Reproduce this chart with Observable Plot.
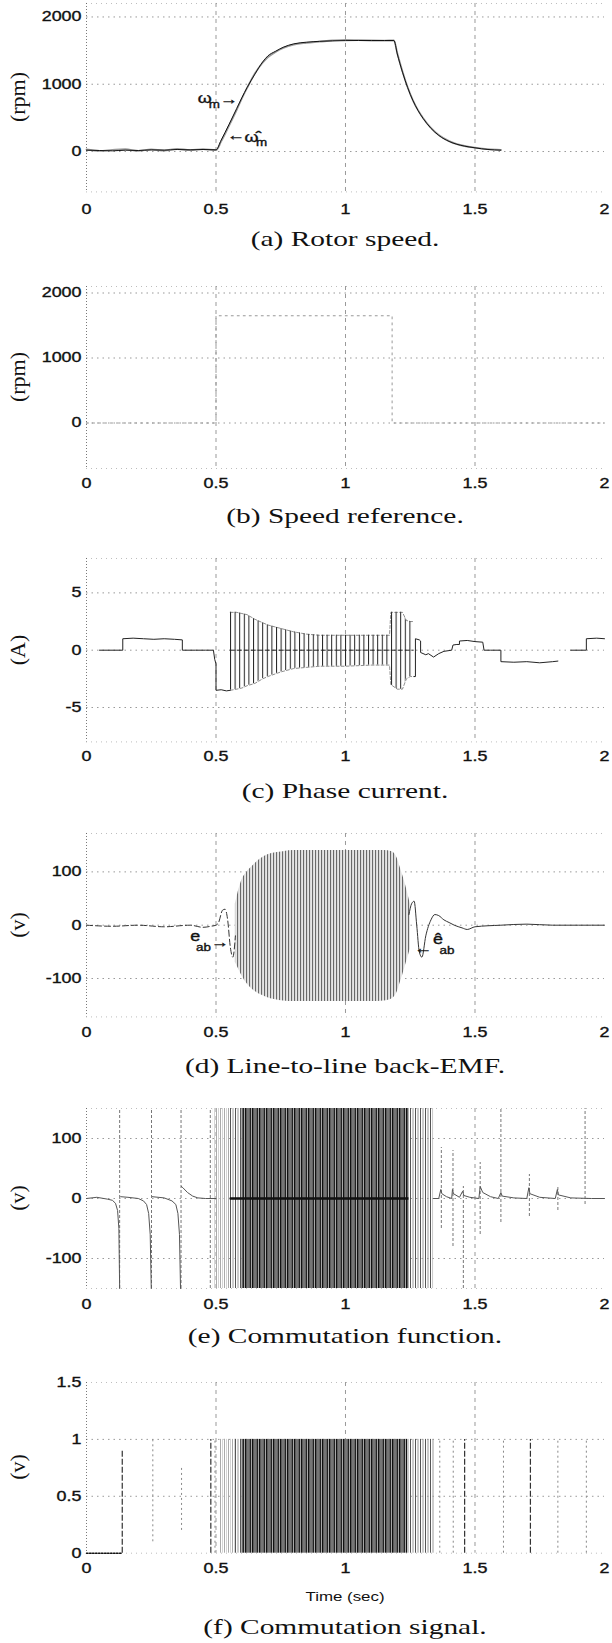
<!DOCTYPE html>
<html><head><meta charset="utf-8">
<script src="https://cdn.jsdelivr.net/npm/d3@7"></script>
<script src="https://cdn.jsdelivr.net/npm/@observablehq/plot@0.6"></script>
<style>
body{margin:0;background:#fff;}
#page{position:relative;width:612px;height:1643px;overflow:hidden;background:#fff;}
#page svg text{stroke:#111;stroke-width:0.35px;}
.cap{position:absolute;white-space:nowrap;font-family:"Liberation Serif","Times New Roman",serif;font-size:21px;line-height:21px;color:#111;transform:translate(-50%,-50%) scaleX(1.4);}
.ylab{position:absolute;white-space:nowrap;font-family:"Liberation Serif","Times New Roman",serif;font-size:22px;line-height:22px;color:#111;transform:translate(-50%,-50%) rotate(-90deg);}
.xlab{position:absolute;white-space:nowrap;font-family:"Liberation Sans",Arial,sans-serif;font-size:13.5px;line-height:14px;color:#111;transform:translate(-50%,-50%) scaleX(1.25);}
</style></head><body>
<svg width="0" height="0" style="position:absolute;left:0;top:0">
<defs>
<pattern id="hatchC" patternUnits="userSpaceOnUse" width="4.6" height="6"><rect x="0" y="0" width="1" height="6" fill="#222"/></pattern>
<pattern id="hatchD" patternUnits="userSpaceOnUse" width="3" height="6"><rect width="3" height="6" fill="#e6e6e6"/><rect x="0" width="1.1" height="6" fill="#6a6a6a"/></pattern>
<pattern id="bandLight" patternUnits="userSpaceOnUse" width="4" height="6"><rect x="0" width="1" height="6" fill="#aaa"/><rect x="2" width="1" height="6" fill="#d4d4d4"/></pattern>
<pattern id="bandMid" patternUnits="userSpaceOnUse" width="5" height="6"><rect x="0" width="1" height="6" fill="#555"/><rect x="2.5" width="1" height="6" fill="#999"/></pattern>
<pattern id="bandDark" patternUnits="userSpaceOnUse" width="7" height="6"><rect width="7" height="6" fill="#a8a8a8"/><rect x="0" width="1.5" height="6" fill="#111"/><rect x="2.5" width="1" height="6" fill="#444"/><rect x="4.5" width="1.5" height="6" fill="#222"/></pattern>
</defs></svg>
<div id="page"></div>
<script>
// ---------- shared ----------
const xTickValues = [0, 0.5, 1, 1.5, 2];
const captions = ["(a) Rotor speed.", "(b) Speed reference.", "(c) Phase current.", "(d) Line-to-line back-EMF.", "(e) Commutation function.", "(f) Commutation signal."];
const yLabels = ["(rpm)", "(rpm)", "(A)", "(v)", "(v)", "(v)"];
const xAxisTitle = "Time (sec)";

// ---------- (a) rotor speed ----------
const speedTicks = [0, 1000, 2000];
const speedTime     = [0, 0.05, 0.1, 0.15, 0.2, 0.25, 0.3, 0.35, 0.4, 0.45, 0.5, 0.52, 0.55, 0.58, 0.6, 0.62, 0.65, 0.68, 0.7, 0.73, 0.76, 0.8, 0.85, 0.9, 0.95, 1.0, 1.05, 1.1, 1.15, 1.187, 1.2, 1.22, 1.24, 1.26, 1.28, 1.3, 1.33, 1.36, 1.4, 1.43, 1.46, 1.5, 1.55, 1.6];
const speedActual   = [20, 15, 10, 20, 15, 25, 20, 30, 25, 30, 25, 170, 400, 640, 800, 950, 1150, 1330, 1420, 1490, 1550, 1600, 1625, 1638, 1645, 1648, 1650, 1650, 1650, 1650, 1450, 1180, 950, 760, 610, 490, 345, 240, 150, 108, 80, 55, 30, 20];
const speedEstimate = [30, 10, 25, 35, 10, 30, 15, 40, 20, 35, 20, 150, 380, 620, 790, 945, 1160, 1320, 1400, 1480, 1540, 1590, 1615, 1632, 1650, 1660, 1655, 1650, 1648, 1652, 1460, 1190, 955, 765, 615, 495, 350, 245, 155, 110, 82, 58, 35, 25];
const speedNoteText = ["ω", "→", "←", "ω\u0302"];
const speedNoteTime = [0.456, 0.55, 0.577, 0.637];
const speedNoteValue = [790, 770, 238, 205];
const speedSubText = ["m", "m"];
const speedSubTime = [0.494, 0.676];
const speedSubValue = [700, 130];

// ---------- (b) speed reference ----------
const refTicks = [0, 1000, 2000];
const refTime  = [0, 0.5, 1.18, 2];
const refSpeed = [0, 1650, 0, 0];

// ---------- (c) phase current ----------
const currentTicks = [-5, 0, 5];
const currentTimeA = [0.05, 0.14, 0.14, 0.18, 0.22, 0.26, 0.30, 0.34, 0.37, 0.37, 0.42, 0.46, 0.49, 0.495, 0.5, 0.5, 0.52, 0.54, 0.555];
const currentA     = [0, 0, 1.0, 1.05, 1.0, 0.95, 1.0, 0.95, 0.9, 0, 0, 0, 0, -0.8, -1.2, -3.5, -3.45, -3.55, -3.5];
const currentTimeB = [1.265, 1.27, 1.27, 1.285, 1.29, 1.29, 1.31, 1.32, 1.34, 1.36, 1.38, 1.41, 1.415, 1.43, 1.44, 1.44, 1.47, 1.5, 1.53, 1.535, 1.56, 1.6, 1.6, 1.65, 1.7, 1.75, 1.8, 1.82, NaN, 1.87, 1.93, 1.93, 1.97, 2.0];
const currentB     = [-2.3, -2.3, 1.0, 0.9, 0.8, -0.2, -0.4, -0.3, -0.6, -0.3, -0.1, 0, 0.45, 0.5, 0.5, 0.8, 0.85, 0.75, 0.7, 0, 0, 0, -1.0, -1.05, -1.0, -1.1, -1.0, -0.95, NaN, 0, 0, 1.0, 1.05, 1.0];
const currentBandTime = [0.555, 0.58, 0.6, 0.62, 0.65, 0.68, 0.7, 0.75, 0.8, 0.85, 0.9, 1.0, 1.1, 1.17, 1.175, 1.2, 1.22, 1.235, 1.25, 1.265];
const currentBandHigh = [3.3, 3.3, 3.2, 3.1, 2.7, 2.4, 2.2, 1.9, 1.6, 1.4, 1.3, 1.3, 1.3, 1.3, 3.3, 3.3, 3.3, 2.6, 2.5, 2.5];
const currentBandLow  = [-3.5, -3.4, -3.3, -3.1, -2.9, -2.5, -2.3, -1.9, -1.6, -1.5, -1.4, -1.4, -1.3, -1.3, -3.0, -3.4, -3.4, -2.5, -2.3, -2.3];

// ---------- (d) back-EMF ----------
const emfTicks = [-100, 0, 100];
const emfTimeA = [0, 0.1, 0.2, 0.3, 0.4, 0.45, 0.48, 0.5, 0.51, 0.525, 0.535, 0.545, 0.555, 0.565, 0.575];
const emfA     = [0, -2, 0, -3, 0, -4, -2, 0, 5, 28, 30, 10, -40, -60, -20];
const emfTimeB = [1.245, 1.255, 1.265, 1.275, 1.285, 1.295, 1.31, 1.33, 1.345, 1.36, 1.38, 1.4, 1.42, 1.45, 1.47, 1.5, 1.6, 1.7, 1.8, 1.9, 2.0];
const emfB     = [20, 40, 45, 0, -50, -60, -20, 10, 20, 18, 10, 5, 0, -5, -8, -3, 0, 2, 0, 0, 0];
const emfBandTime = [0.575, 0.59, 0.6, 0.62, 0.64, 0.66, 0.68, 0.7, 0.73, 0.76, 0.8, 0.9, 1.0, 1.1, 1.15, 1.18, 1.2, 1.21, 1.22, 1.235, 1.25];
const emfBandHigh = [40, 70, 85, 100, 110, 120, 127, 132, 136, 138, 140, 140, 140, 140, 140, 138, 125, 110, 95, 70, 40];
const emfBandLow  = [-70, -85, -95, -110, -120, -127, -132, -136, -140, -142, -143, -143, -143, -143, -142, -138, -125, -110, -95, -70, -45];
const emfNoteText = ["e", "→", "←", "ê"];
const emfNoteTime = [0.42, 0.515, 1.30, 1.357];
const emfNoteValue = [-22, -33, -43, -26];
const emfSubText = ["ab", "ab"];
const emfSubTime = [0.452, 1.392];
const emfSubValue = [-42, -48];

// ---------- (e) commutation function ----------
const commFnTicks = [-100, 0, 100];
const commFnTime = [0, 0.04, 0.08, 0.1, 0.112, 0.12, 0.125, 0.128, NaN, 0.132, 0.16, 0.2, 0.22, 0.232, 0.24, 0.246, 0.25, NaN, 0.254, 0.3, 0.33, 0.345, 0.353, 0.359, 0.363, NaN, 0.366, 0.372, 0.39, 0.41, 0.43, 0.46, 0.5,
  NaN, 1.34, 1.36, 1.368, 1.372, 1.39, 1.41, 1.413, 1.417, 1.44, 1.452, 1.457, 1.48, 1.515, 1.52, 1.53, 1.56, 1.59, 1.6, 1.605, 1.65, 1.7, 1.708, 1.712, 1.75, 1.81, 1.818, 1.822, 1.87, 1.95, 2.0];
const commFn = [0, 2, -1, -3, -8, -20, -50, -150, NaN, 3, 2, 0, -4, -10, -25, -60, -150, NaN, 3, 1, -4, -10, -25, -60, -150, NaN, 20, 18, 10, 4, 1, 0, 0,
  NaN, 0, 0, 15, 8, 3, 0, 15, 8, 2, 12, 5, 2, 0, 20, 10, 3, 0, 10, 4, 1, 0, 18, 8, 2, 0, 15, 6, 1, 0, 0];
const commFnBandStart = [0.49, 0.555, 0.6, 1.245];
const commFnBandEnd   = [0.555, 0.6, 1.245, 1.34];
const commFnBandLevel = ["light", "mid", "dark", "mid"];
const commFnRuleTime = [0.128, 0.251, 0.365, 0.478, 1.37, 1.415, 1.455, 1.52, 1.6, 1.71, 1.82, 1.925];
const commFnRuleLow  = [-150, -150, -150, -150, -50, -80, -150, -60, -40, -30, -20, -10];
const commFnRuleHigh = [150, 150, 150, 150, 85, 80, 20, 60, 150, 40, 20, 150];

// ---------- (f) commutation signal ----------
const commSigTicks = [0, 0.5, 1, 1.5];
const commSigBandStart = [0.515, 0.575, 0.6, 1.24];
const commSigBandEnd   = [0.575, 0.6, 1.24, 1.345];
const commSigBandLevel = ["light", "mid", "dark", "mid"];
const commSigSolidTime = [0.138, 0.48, 1.46, 1.714];
const commSigSolidLow  = [0, 0, 0, 0];
const commSigSolidHigh = [0.9, 1, 1, 1];
const commSigFaintTime = [0.256, 0.367, 0.496, 1.364, 1.416, 1.61, 1.82, 1.93];
const commSigFaintLow  = [0.1, 0.2, 0, 0, 0, 0, 0, 0];
const commSigFaintHigh = [1, 0.75, 1, 1, 1, 1, 1, 1];
const commSigBaseTime = [0, 0.138];
const commSigBase     = [0, 0];

// ---------- helpers ----------
const zip = (ks, ...arrs) => arrs[0].map((_, i) => Object.fromEntries(ks.map((k, j) => [k, arrs[j][i]])));
const page = document.getElementById("page");
const W = 612, X0 = 86, X1 = 604, CX = 345;
const SANS = "'Liberation Sans', Arial, Helvetica, sans-serif";
const TEXT_STRETCH = 1.28;
const patternFor = {light: "url(#bandLight)", mid: "url(#bandMid)", dark: "url(#bandDark)"};

function stretchTexts(svg, s) {
  svg.querySelectorAll("text").forEach(el => {
    const tr = el.getAttribute("transform") || "";
    const x = parseFloat(el.getAttribute("x")) || 0;
    el.setAttribute("transform", `${tr} translate(${x},0) scale(${s},1) translate(${-x},0)`);
  });
}

function gridMarks(ydom, yticks) {
  const inner = yticks.filter(v => v > ydom[0] && v < ydom[1]);
  return [
    Plot.ruleY(ydom, {stroke: "#888", strokeWidth: 0.8, strokeDasharray: "1,4", strokeOpacity: 0.7}),
    Plot.ruleX([xTickValues[0]], {stroke: "#555", strokeWidth: 0.8, strokeDasharray: "1,2"}),
    Plot.ruleX(xTickValues.slice(1, -1), {stroke: "#555", strokeWidth: 0.8, strokeDasharray: "4,4", strokeOpacity: 0.75}),
    Plot.ruleY(inner, {stroke: "#555", strokeWidth: 0.8, strokeDasharray: "1.5,4", strokeOpacity: 0.75})
  ];
}

function addPanel(i, cfg, marks) {
  const mt = 6, mb = 40;
  const svg = Plot.plot({
    width: W, height: cfg.bottom - cfg.top + mt + mb,
    marginLeft: X0, marginRight: W - X1, marginTop: mt, marginBottom: mb,
    style: {fontFamily: SANS, fontSize: "14px", color: "#111", background: "transparent", overflow: "visible"},
    x: {domain: [0, 2], ticks: xTickValues, tickSize: 0, tickPadding: cfg.xpad, tickFormat: d => String(d), label: null},
    y: {domain: cfg.ydom, ticks: cfg.yticks, tickSize: 0, tickPadding: 5, tickFormat: d => String(d), label: null},
    marks: [...gridMarks(cfg.ydom, cfg.yticks), ...marks]
  });
  svg.style.position = "absolute";
  svg.style.left = "0px";
  svg.style.top = (cfg.top - mt) + "px";
  page.appendChild(svg);
  stretchTexts(svg, TEXT_STRETCH);

  const yl = document.createElement("div");
  yl.className = "ylab";
  yl.textContent = yLabels[i];
  yl.style.left = "18px";
  yl.style.top = ((cfg.top + cfg.bottom) / 2) + "px";
  page.appendChild(yl);

  const cap = document.createElement("div");
  cap.className = "cap";
  cap.textContent = captions[i];
  cap.style.left = CX + "px";
  cap.style.top = cfg.capY + "px";
  page.appendChild(cap);
}

function noteMarks(texts, times, values, subs, subTimes, subValues) {
  return [
    Plot.text(zip(["t", "v", "s"], times, values, texts), {x: "t", y: "v", text: "s", fontSize: 14, fontFamily: SANS, fill: "#111"}),
    Plot.text(zip(["t", "v", "s"], subTimes, subValues, subs), {x: "t", y: "v", text: "s", fontSize: 10.5, fontFamily: SANS, fill: "#111"})
  ];
}

function bandMarks(starts, ends, levels, lo, hi) {
  const bands = zip(["t1", "t2", "level"], starts, ends, levels);
  return ["light", "mid", "dark"].map(l =>
    Plot.rect(bands.filter(d => d.level === l), {x1: "t1", x2: "t2", y1: lo, y2: hi, fill: patternFor[l]}));
}

// (a)
addPanel(0, {top: 3, bottom: 191.4, ydom: [-600, 2200], yticks: speedTicks, xpad: 12, capY: 239}, [
  Plot.line(zip(["t", "v"], speedTime, speedEstimate), {x: "t", y: "v", curve: "monotone-x", stroke: "#9a9a9a", strokeWidth: 1.8}),
  Plot.line(zip(["t", "v"], speedTime, speedActual), {x: "t", y: "v", curve: "monotone-x", stroke: "#111", strokeWidth: 1}),
  ...noteMarks(speedNoteText, speedNoteTime, speedNoteValue, speedSubText, speedSubTime, speedSubValue)
]);

// (b)
addPanel(1, {top: 285.8, bottom: 467.8, ydom: [-700, 2100], yticks: refTicks, xpad: 10, capY: 516}, [
  Plot.line(zip(["t", "v"], refTime, refSpeed), {x: "t", y: "v", curve: "step-after", stroke: "#999", strokeWidth: 1, strokeDasharray: "2,4"})
]);

// (c)
const cBand = zip(["t", "hi", "lo"], currentBandTime, currentBandHigh, currentBandLow);
addPanel(2, {top: 558.3, bottom: 741.7, ydom: [-8, 8], yticks: currentTicks, xpad: 9, capY: 791}, [
  Plot.areaY(cBand, {x: "t", y1: "lo", y2: "hi", fill: "url(#hatchC)"}),
  Plot.line(cBand, {x: "t", y: "hi", stroke: "#444", strokeWidth: 0.6, strokeDasharray: "3,2"}),
  Plot.line(cBand, {x: "t", y: "lo", stroke: "#444", strokeWidth: 0.6, strokeDasharray: "3,2"}),
  Plot.ruleY([0], {x1: currentBandTime[0], x2: currentBandTime[currentBandTime.length - 1], stroke: "#222", strokeWidth: 1, strokeDasharray: "5,2"}),
  Plot.line(zip(["t", "v"], currentTimeA, currentA), {x: "t", y: "v", stroke: "#222", strokeWidth: 1}),
  Plot.line(zip(["t", "v"], currentTimeB, currentB), {x: "t", y: "v", stroke: "#222", strokeWidth: 1})
]);

// (d)
const dBand = zip(["t", "hi", "lo"], emfBandTime, emfBandHigh, emfBandLow);
addPanel(3, {top: 833.3, bottom: 1016.7, ydom: [-172, 172], yticks: emfTicks, xpad: 10, capY: 1066}, [
  Plot.areaY(dBand, {x: "t", y1: "lo", y2: "hi", curve: "monotone-x", fill: "url(#hatchD)"}),
  Plot.line(zip(["t", "v"], emfTimeA, emfA), {x: "t", y: "v", curve: "monotone-x", stroke: "#333", strokeWidth: 1, strokeDasharray: "6,3"}),
  Plot.line(zip(["t", "v"], emfTimeB, emfB), {x: "t", y: "v", curve: "monotone-x", stroke: "#333", strokeWidth: 1}),
  ...noteMarks(emfNoteText, emfNoteTime, emfNoteValue, emfSubText, emfSubTime, emfSubValue)
]);

// (e)
addPanel(4, {top: 1108.3, bottom: 1288.3, ydom: [-150, 150], yticks: commFnTicks, xpad: 11, capY: 1336}, [
  ...bandMarks(commFnBandStart, commFnBandEnd, commFnBandLevel, -150, 150),
  Plot.ruleY([0], {x1: commFnBandStart[1], x2: commFnBandEnd[2], stroke: "#111", strokeWidth: 2.5}),
  Plot.ruleX(zip(["t", "lo", "hi"], commFnRuleTime, commFnRuleLow, commFnRuleHigh), {x: "t", y1: "lo", y2: "hi", stroke: "#777", strokeWidth: 1, strokeDasharray: "3,2"}),
  Plot.line(zip(["t", "v"], commFnTime, commFn), {x: "t", y: "v", stroke: "#555", strokeWidth: 1})
]);

// (f)
addPanel(5, {top: 1382, bottom: 1552.7, ydom: [0, 1.5], yticks: commSigTicks, xpad: 10, capY: 1627}, [
  ...bandMarks(commSigBandStart, commSigBandEnd, commSigBandLevel, 0, 1),
  Plot.ruleX(zip(["t", "lo", "hi"], commSigFaintTime, commSigFaintLow, commSigFaintHigh), {x: "t", y1: "lo", y2: "hi", stroke: "#888", strokeWidth: 1, strokeDasharray: "2,3"}),
  Plot.ruleX(zip(["t", "lo", "hi"], commSigSolidTime, commSigSolidLow, commSigSolidHigh), {x: "t", y1: "lo", y2: "hi", stroke: "#333", strokeWidth: 1.2, strokeDasharray: "6,2"}),
  Plot.line(zip(["t", "v"], commSigBaseTime, commSigBase), {x: "t", y: "v", stroke: "#111", strokeWidth: 1.5, strokeDasharray: "1.5,1.5"})
]);

const xl = document.createElement("div");
xl.className = "xlab";
xl.textContent = xAxisTitle;
xl.style.left = CX + "px";
xl.style.top = "1597px";
page.appendChild(xl);
</script>
</body></html>
